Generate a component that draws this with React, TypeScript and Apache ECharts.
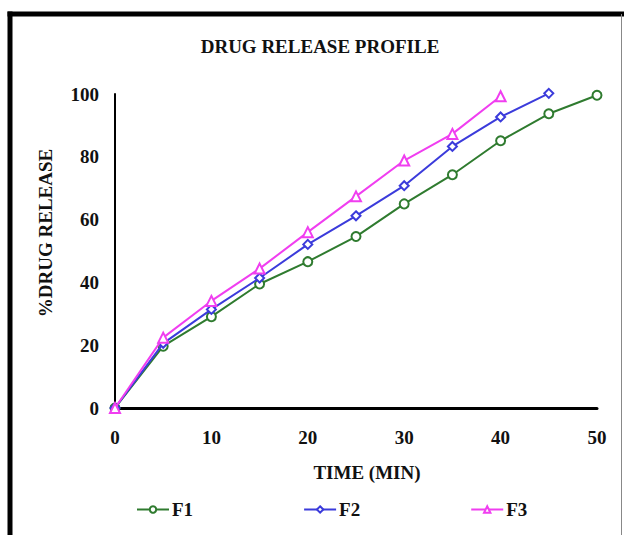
import React, { useEffect, useRef } from "react";
import * as echarts from "echarts";

const timeMin = [0, 5, 10, 15, 20, 25, 30, 35, 40, 45, 50];
const f1Values = [0, 19.7, 29.1, 39.5, 46.6, 54.6, 65.0, 74.3, 85.1, 93.7, 99.6];
const f2Values = [0, 20.6, 31.4, 41.4, 52.1, 61.2, 70.8, 83.3, 92.7, 100.2];
const f3Values = [0, 22.4, 34.1, 44.4, 56.0, 67.4, 78.8, 87.3, 99.3];
const seriesNames = ["F1", "F2", "F3"];
const seriesColors = ["#2F7B2F", "#3B3BDB", "#F03EF0"];
const seriesSymbols = ["emptyCircle", "emptyDiamond", "emptyTriangle"];
const titleText = "DRUG RELEASE PROFILE";
const xAxisTitle = "TIME (MIN)";
const yAxisTitle = "%DRUG RELEASE";

const FONT = "'Liberation Serif', 'Times New Roman', serif";

export default function App() {
  const ref = useRef<HTMLDivElement>(null);
  useEffect(() => {
    if (!ref.current) return;
    const chart = echarts.init(ref.current, undefined, { renderer: "svg" });
    const allValues = [f1Values, f2Values, f3Values];
    const series = allValues.map((vals, i) => ({
      name: seriesNames[i],
      type: "line",
      data: vals.map((v, j) => [timeMin[j], v]),
      symbol: seriesSymbols[i],
      symbolSize: i === 2 ? 10 : 9,
      showAllSymbol: true,
      clip: false,
      lineStyle: { color: seriesColors[i], width: 2 },
      itemStyle: { color: seriesColors[i], borderColor: seriesColors[i], borderWidth: 2 },
      z: 3 + i,
    }));
    chart.setOption({
      animation: false,
      backgroundColor: "#ffffff",
      grid: { left: 115, right: 27, top: 94, bottom: 127, containLabel: false },
      xAxis: {
        type: "value",
        min: 0,
        max: 50,
        interval: 10,
        axisLine: { show: true, lineStyle: { color: "#000", width: 3 } },
        axisTick: { show: false },
        splitLine: { show: false },
        axisLabel: {
          margin: 20,
          color: "#111",
          fontFamily: FONT,
          fontWeight: "bold",
          fontSize: 19,
        },
      },
      yAxis: {
        type: "value",
        min: 0,
        max: 100,
        interval: 20,
        axisLine: { show: true, onZero: false, lineStyle: { color: "#000", width: 2 } },
        axisTick: { show: false },
        splitLine: { show: false },
        axisLabel: {
          margin: 16,
          color: "#111",
          fontFamily: FONT,
          fontWeight: "bold",
          fontSize: 19,
        },
      },
      legend: {
        data: seriesNames,
        left: 131,
        top: 495,
        orient: "horizontal",
        itemWidth: 32,
        itemHeight: 8,
        itemGap: 110,
        textStyle: { color: "#111", fontFamily: FONT, fontWeight: "bold", fontSize: 19, padding: [0, 0, 0, -2] },
      },
      graphic: [
        {
          type: "text",
          x: 320,
          y: 46,
          style: {
            text: titleText,
            fill: "#111",
            font: `bold 19px ${FONT}`,
            align: "center",
            verticalAlign: "middle",
          },
        },
        {
          type: "text",
          x: 367,
          y: 472,
          style: {
            text: xAxisTitle,
            fill: "#111",
            font: `bold 19px ${FONT}`,
            align: "center",
            verticalAlign: "middle",
          },
        },
        {
          type: "text",
          x: 45,
          y: 233,
          rotation: Math.PI / 2,
          style: {
            text: yAxisTitle,
            fill: "#111",
            font: `bold 19px ${FONT}`,
            align: "center",
            verticalAlign: "middle",
          },
        },
        {
          type: "line",
          shape: { x1: 10, y1: 11.5, x2: 10, y2: 540 },
          style: { stroke: "#000", lineWidth: 5 },
        },
        {
          type: "line",
          shape: { x1: 7.5, y1: 14, x2: 624, y2: 14 },
          style: { stroke: "#000", lineWidth: 5 },
        },
        {
          type: "line",
          shape: { x1: 621.5, y1: 14, x2: 621.5, y2: 540 },
          style: { stroke: "#888", lineWidth: 1 },
        },
      ],
      series,
    });
    return () => chart.dispose();
  }, []);
  return (
    <div
      ref={ref}
      style={{ position: "fixed", left: 0, top: 0, width: 624, height: 535, background: "#fff" }}
    />
  );
}
